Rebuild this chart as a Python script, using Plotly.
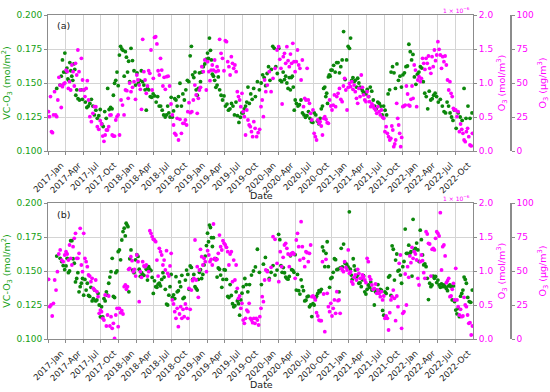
import calendar
import pandas as pd
import plotly.graph_objects as go

# ---------------- data (monthly groups of observations, 2017-01 .. 2022-12) ----------------
months = pd.date_range("2017-01-01", "2022-12-01", freq="MS")
tick_dates = pd.date_range("2017-01-01", "2022-10-01", freq="3MS")

# Panel (a) VC-O3 (mol/m^2)
vc_a_2017 = [[], [0.146], [0.1485, 0.155, 0.167, 0.158, 0.172], [0.158, 0.161, 0.153, 0.152, 0.165, 0.159],
             [0.155, 0.152, 0.164, 0.160, 0.141, 0.145], [0.1385, 0.1375, 0.145, 0.138], [0.145, 0.136, 0.132, 0.133],
             [0.135, 0.138, 0.133, 0.1265], [0.130, 0.124, 0.126, 0.1305], [0.120, 0.118, 0.129, 0.124],
             [0.146, 0.1305, 0.132, 0.131], [0.141, 0.1498, 0.152, 0.158, 0.148]]
vc_a_2018 = [[0.1705, 0.177, 0.175, 0.174, 0.155], [0.173, 0.169, 0.158, 0.166, 0.151], [0.1755, 0.1665, 0.159, 0.1485],
             [0.1575, 0.1498, 0.152, 0.159], [0.151, 0.1485, 0.145, 0.130, 0.146], [0.145, 0.140, 0.1395, 0.142],
             [0.1405, 0.136, 0.140, 0.133], [0.133, 0.130, 0.1265, 0.125], [0.1265, 0.133, 0.128, 0.125, 0.1395],
             [0.125, 0.1295, 0.1385, 0.1375, 0.133], [0.140, 0.1498, 0.133, 0.142], [0.1375, 0.145, 0.152, 0.151]]
vc_a_2019 = [[0.170, 0.177, 0.156, 0.154, 0.158], [0.145, 0.141, 0.146, 0.1575, 0.151], [0.158, 0.162, 0.164, 0.1675],
             [0.172, 0.168, 0.183, 0.174, 0.167, 0.1565], [0.155, 0.152, 0.1468, 0.1485, 0.1545],
             [0.145, 0.141, 0.1375, 0.1405], [0.133, 0.1345, 0.130, 0.131], [0.135, 0.133, 0.1265, 0.136],
             [0.126, 0.121, 0.1248, 0.128], [0.128, 0.131, 0.133, 0.136, 0.147], [0.135, 0.142, 0.138, 0.146],
             [0.140, 0.151, 0.145]]
vc_a_2020 = [[0.150, 0.156, 0.154, 0.148], [0.157, 0.162, 0.152, 0.160], [0.177, 0.1755, 0.162, 0.157],
             [0.1755, 0.152, 0.151, 0.158], [0.1525, 0.155, 0.150, 0.146, 0.154], [0.145, 0.154, 0.155, 0.147, 0.130, 0.1375],
             [0.135, 0.133, 0.134, 0.1375], [0.128, 0.1265, 0.1248, 0.126], [0.129, 0.124, 0.1215, 0.121],
             [0.128, 0.1265, 0.122, 0.120], [0.124, 0.131, 0.133, 0.146, 0.147],
             [0.140, 0.1425, 0.135, 0.1545, 0.156, 0.155, 0.1595]]
vc_a_2021 = [[0.1595, 0.163, 0.158, 0.165], [0.165, 0.1575, 0.162, 0.167], [0.1878, 0.1525, 0.167, 0.177],
             [0.1755, 0.183, 0.152, 0.154, 0.151], [0.152, 0.147, 0.1535, 0.150, 0.147],
             [0.146, 0.1443, 0.1425, 0.143, 0.142], [0.1453, 0.140, 0.147, 0.144], [0.1375, 0.133, 0.131, 0.136],
             [0.135, 0.133, 0.1265, 0.133], [0.130, 0.1265, 0.142, 0.145], [0.158, 0.162, 0.1575, 0.146],
             [0.164, 0.152, 0.155, 0.147]]
vc_a_2022 = [[0.156, 0.1575, 0.162, 0.1625], [0.1785, 0.173, 0.167, 0.171], [0.1545, 0.149, 0.1565, 0.158],
             [0.162, 0.161, 0.151, 0.1425], [0.140, 0.131, 0.144, 0.1375], [0.1385, 0.141, 0.1425, 0.140],
             [0.136, 0.138, 0.133], [0.129, 0.128, 0.136, 0.133], [0.128, 0.125, 0.1225, 0.130],
             [0.1167, 0.128, 0.125], [0.1225, 0.146, 0.124], [0.133, 0.124, 0.128]]

# Panel (a) O3 (x1e-6 mol/m^3)
o3_a_2017 = [[0.578, 0.505, 0.80, 0.284, 0.27, 0.53], [0.873, 0.53, 0.505, 0.75, 1.083], [0.97, 0.64, 0.946, 0.985, 1.0],
             [1.19, 1.167, 0.92, 1.02, 0.897], [1.265, 1.167, 0.956, 1.29, 1.118], [1.485, 1.167, 0.897, 1.363, 1.044],
             [0.897, 0.80, 0.92, 1.034, 0.75], [0.505, 0.431, 0.554, 0.652], [0.652, 0.358, 0.319, 0.446],
             [0.397, 0.22, 0.142, 0.235, 0.309], [0.309, 0.358, 0.529, 0.53, 0.235], [0.22, 0.22, 0.456, 0.505, 0.53]]
o3_a_2018 = [[0.235, 0.75, 0.676, 0.53], [0.897, 0.887, 0.775, 1.0], [0.873, 0.936, 1.02, 0.76],
             [1.118, 1.044, 0.97, 0.907, 0.613], [1.642, 1.167, 1.044, 0.848, 0.956], [1.18, 1.142, 1.485, 0.897, 1.069],
             [1.67, 1.68, 1.574, 1.18, 1.118], [1.363, 1.19, 0.956, 1.083, 0.907], [1.093, 1.1, 0.956, 0.691],
             [0.53, 0.382, 0.26, 0.235, 0.48], [0.162, 0.466, 0.26, 0.407], [0.407, 0.456, 0.382, 0.578, 0.711]]
o3_a_2019 = [[0.564, 0.578, 0.75, 0.97], [0.824, 0.554, 0.775, 0.897, 0.936], [1.24, 1.167, 1.338, 0.897],
             [1.314, 1.167, 1.034, 1.19, 1.265], [1.19, 1.338, 1.167, 1.24, 1.18], [1.642, 1.436, 1.363, 1.18],
             [1.623, 1.608, 1.314, 1.24, 1.118], [1.387, 1.29, 1.216, 1.265, 1.167], [0.873, 0.80, 0.75, 0.652, 0.848],
             [0.578, 0.505, 0.235, 0.603, 0.456], [0.382, 0.358, 0.284, 0.211, 0.431], [0.333, 0.211, 0.27, 0.319]]
o3_a_2020 = [[0.652, 0.75, 0.505, 1.044, 0.873], [0.97, 1.167, 0.873], [1.069, 1.216, 1.485],
             [1.534, 1.348, 1.216, 0.691, 1.387], [1.436, 1.29, 1.534, 1.328, 1.24], [1.426, 1.29, 1.583, 1.314, 1.167],
             [1.314, 1.485, 1.265, 1.216, 1.044], [1.338, 0.652, 0.775, 0.75, 1.216], [0.75, 0.701, 0.554, 0.456, 0.603],
             [0.26, 0.211, 0.162, 0.456, 0.407], [0.431, 0.368, 0.235, 0.48, 0.505], [0.466, 0.417, 0.407, 0.75, 0.662]]
o3_a_2021 = [[0.603, 0.676, 0.824, 0.652, 0.80], [0.848, 0.92, 0.76, 0.725], [0.956, 1.069, 0.897, 0.603, 0.936],
             [0.995, 0.946, 1.02, 0.907, 0.97], [0.873, 0.775, 0.701, 0.92, 0.80], [1.118, 0.936, 0.824, 0.75, 0.725],
             [0.873, 0.80, 0.725, 0.652, 0.691], [0.662, 0.627, 0.603, 0.554, 0.652], [0.578, 0.53, 0.603, 0.495, 0.48],
             [0.284, 0.358, 0.26, 0.211, 0.162], [0.186, 0.368, 0.309, 0.064, 0.103, 0.162],
             [0.701, 0.48, 0.382, 0.26, 0.064, 0.20]]
o3_a_2022 = [[0.652, 0.662, 0.676, 0.956, 0.838], [0.676, 0.662, 0.76, 0.956, 0.775], [1.265, 1.19, 0.652, 1.044, 1.093],
             [1.02, 1.069, 1.363, 1.29, 1.20], [1.363, 1.29, 1.397, 1.216, 1.142], [1.387, 1.24, 1.485, 1.328, 1.412],
             [1.608, 1.495, 1.412, 1.216, 1.387], [1.314, 1.397, 1.265, 1.044, 0.897], [1.02, 0.848, 0.80, 0.627, 0.603],
             [0.603, 0.505, 0.578, 0.284, 0.397], [0.319, 0.26, 0.162, 0.137, 0.284], [0.333, 0.211, 0.088, 0.074, 0.26]]

# Panel (b) VC-O3 (mol/m^2)
vc_b_2017 = [[], [0.161], [0.1593, 0.157, 0.154, 0.151], [0.1537, 0.1593, 0.1488, 0.150, 0.1723],
             [0.1723, 0.159, 0.1557, 0.142, 0.1445], [0.1488, 0.1347, 0.1385, 0.141, 0.1445],
             [0.1322, 0.1438, 0.136, 0.141, 0.132], [0.1313, 0.138, 0.128, 0.1297, 0.136],
             [0.128, 0.1287, 0.1335, 0.125, 0.1163], [0.1237, 0.1163, 0.1297, 0.128, 0.1347],
             [0.1322, 0.141, 0.1455, 0.1495, 0.1593], [0.1313, 0.1305, 0.1488, 0.150, 0.1642]]
vc_b_2018 = [[0.1655, 0.1582, 0.1728, 0.179, 0.1815], [0.1758, 0.1851, 0.1838, 0.1826, 0.1347, 0.159],
             [0.1655, 0.1507, 0.1488, 0.1582], [0.162, 0.1607, 0.1513, 0.146, 0.1488],
             [0.1475, 0.1468, 0.1532, 0.1513, 0.1433], [0.1532, 0.1513, 0.1503, 0.1453, 0.1335],
             [0.1428, 0.1385, 0.138, 0.1403, 0.141], [0.139, 0.1438, 0.1488, 0.1455, 0.1365],
             [0.1257, 0.125, 0.1322, 0.1385, 0.1475], [0.1305, 0.1325, 0.1297, 0.1458, 0.1347],
             [0.1355, 0.142, 0.1385, 0.1468, 0.1297], [0.1305, 0.1433, 0.1507, 0.1475, 0.1365]]
vc_b_2019 = [[0.1537, 0.1526, 0.1438, 0.1475, 0.1385], [0.1372, 0.136, 0.1438, 0.149, 0.151],
             [0.1445, 0.1475, 0.1545, 0.161, 0.1687], [0.1778, 0.1715, 0.1838, 0.182, 0.1745, 0.168],
             [0.1745, 0.1588, 0.159, 0.1455, 0.1522], [0.1513, 0.147, 0.138, 0.1438, 0.151],
             [0.1507, 0.1438, 0.1313, 0.1305, 0.140], [0.132, 0.126, 0.1237, 0.1245, 0.1347],
             [0.128, 0.126, 0.1175, 0.1287, 0.1337], [0.1385, 0.1445, 0.140, 0.1347],
             [0.140, 0.147, 0.150], [0.153, 0.166, 0.149]]
vc_b_2020 = [[0.140, 0.155, 0.160], [0.150, 0.1445, 0.149], [0.154, 0.147, 0.1507],
             [0.177, 0.173, 0.154, 0.149, 0.1525], [0.1487, 0.1455, 0.1445, 0.144, 0.146],
             [0.1612, 0.151, 0.1505, 0.149, 0.162], [0.136, 0.1475, 0.1355, 0.133, 0.1435],
             [0.1385, 0.1355, 0.128, 0.1285, 0.131], [0.1315, 0.1237, 0.125, 0.1165, 0.126],
             [0.125, 0.130, 0.1315, 0.1335, 0.1355], [0.1348, 0.1365, 0.1677, 0.1648, 0.1532],
             [0.163, 0.1715, 0.1532, 0.138, 0.1445]]
vc_b_2021 = [[0.1453, 0.149, 0.159, 0.1583, 0.151], [0.1513, 0.1347, 0.1522, 0.1667, 0.153],
             [0.1698, 0.1557, 0.155, 0.153], [0.1935, 0.1513, 0.147, 0.144, 0.159, 0.1537],
             [0.1507, 0.1455, 0.147, 0.141, 0.1413], [0.1385, 0.1435, 0.1465, 0.1347, 0.133],
             [0.1365, 0.1397, 0.138, 0.142, 0.136], [0.1365, 0.125, 0.1347, 0.136, 0.140],
             [0.134, 0.1365, 0.136, 0.121, 0.1175], [0.1347, 0.1335, 0.1372, 0.1455, 0.1465],
             [0.132, 0.1685, 0.166, 0.1433, 0.158], [0.1625, 0.150, 0.1507, 0.147, 0.141]]
vc_b_2022 = [[0.1532, 0.157, 0.1808, 0.163, 0.163], [0.169, 0.163, 0.1642, 0.1463, 0.188],
             [0.1655, 0.1667, 0.1705, 0.1655, 0.157], [0.180, 0.173, 0.1618, 0.1545, 0.1552],
             [0.1532, 0.1446, 0.129, 0.141, 0.1385], [0.1397, 0.1463, 0.1446, 0.146, 0.1415],
             [0.1433, 0.1397, 0.138, 0.1405, 0.1385], [0.1397, 0.1385, 0.1372, 0.1355, 0.139],
             [0.1397, 0.1385, 0.1287, 0.139, 0.1275], [0.1213, 0.1185, 0.1225, 0.1164, 0.1315],
             [0.1335, 0.136, 0.1455, 0.1438, 0.141], [0.1306, 0.1275, 0.127, 0.136]]

# Panel (b) O3 (x1e-6 mol/m^3)
o3_b_2017 = [[0.877, 0.475, 0.50, 0.338, 0.525], [0.868, 0.72, 0.99, 1.25], [1.31, 1.16, 1.137, 1.235],
             [1.284, 1.25, 1.16, 1.382, 1.186], [1.088, 1.358, 1.48, 1.554, 1.186], [1.186, 1.26, 1.627, 1.088, 0.99],
             [1.554, 1.186, 1.137, 1.064, 0.941], [0.926, 0.843, 0.892, 0.745, 0.72], [0.868, 0.696, 0.623, 0.377, 0.426],
             [0.402, 0.304, 0.279, 0.647, 0.191], [0.353, 0.632, 0.191, 0.328, 0.157], [0.23, 0.01, 0.353, 0.451, 0.181]]
o3_b_2018 = [[0.451, 0.387, 0.417, 0.368, 0.77], [0.794, 0.73, 0.77, 1.025, 1.04], [1.21, 1.152, 0.99, 1.025, 0.926],
             [1.235, 1.137, 0.549, 0.99, 0.907], [1.137, 1.074, 1.064, 1.088, 0.926], [0.99, 1.593, 1.554, 1.505, 1.466],
             [1.456, 1.431, 1.16, 0.926, 1.333], [1.284, 1.235, 1.088, 1.16, 1.015], [1.299, 0.966, 0.926, 1.074, 1.26],
             [0.574, 0.515, 0.402, 0.304, 0.451], [0.181, 0.368, 0.475, 0.304, 0.436], [0.328, 0.515, 0.451, 0.304, 0.745]]
o3_b_2019 = [[0.436, 0.72, 0.858, 0.892, 1.456], [0.868, 1.064, 0.613, 1.015, 1.319], [1.21, 1.088, 1.186, 1.137, 0.99],
             [1.299, 1.235, 1.137, 1.172, 1.088], [1.691, 1.186, 1.16, 1.172, 1.26], [1.529, 1.358, 1.309, 1.446, 1.407],
             [1.382, 1.348, 1.284, 1.088, 1.25], [1.284, 0.843, 1.16, 0.868, 1.088], [0.745, 0.598, 0.632, 0.451, 0.525],
             [0.279, 0.23, 0.304, 0.426, 0.402], [0.525, 0.304, 0.279, 0.24, 0.304], [0.23, 0.304, 0.279, 0.206, 0.328]]
o3_b_2020 = [[0.451, 0.623, 0.549, 0.868, 1.015], [0.99, 0.868, 1.054], [1.505, 1.466, 1.113],
             [0.843, 1.284, 1.064, 1.201], [1.382, 1.407, 1.333, 1.25, 1.064], [1.235, 1.26, 1.27, 1.25, 0.892],
             [1.456, 1.554, 1.358, 1.16, 1.725], [1.358, 1.186, 1.064, 1.284, 1.27], [1.137, 1.26, 1.382, 0.623, 0.632],
             [0.613, 0.574, 0.387, 0.338, 0.279], [0.27, 0.27, 1.137, 0.662, 0.108], [1.172, 0.672, 0.475, 0.402, 0.525]]
o3_b_2021 = [[0.338, 0.451, 0.574, 0.377, 0.696], [0.564, 0.574, 0.377, 1.04, 1.015], [0.99, 1.137, 1.054, 1.015, 1.31],
             [0.966, 0.99, 0.843, 0.809, 0.907], [0.941, 0.868, 1.025, 0.966, 0.892], [0.892, 0.941, 0.917, 0.868, 0.828],
             [1.186, 1.137, 0.917, 0.877, 0.794], [0.73, 0.745, 0.809, 0.672, 0.72], [0.672, 0.623, 0.696, 0.574, 0.632],
             [0.304, 0.338, 0.304, 0.132, 0.387], [0.574, 0.623, 0.72, 0.598, 0.27], [0.632, 0.475, 1.113, 1.235, 0.157]]
o3_b_2022 = [[0.377, 0.402, 0.956, 0.50, 1.064], [0.907, 1.221, 1.123, 1.348, 1.186], [1.284, 1.25, 1.162, 0.892, 0.794],
             [1.137, 1.235, 1.152, 0.975, 0.892], [1.578, 1.544, 1.407, 1.397, 0.926], [1.319, 1.333, 1.31, 1.48, 1.578],
             [1.554, 1.515, 1.858, 1.015, 1.358], [1.382, 1.221, 0.828, 0.858, 0.892], [0.623, 0.632, 0.73, 0.819, 0.574],
             [1.04, 0.574, 0.475, 0.353, 0.436], [0.328, 0.338, 0.613, 0.50, 0.475], [0.353, 0.23, 0.24, 0.059, 0.191]]

x_start = "2017-01-01"
x_end = "2023-01-01"

GREEN = "#0b870b"
GREEN_TXT = "#14a014"
MAG = "#ff00ff"
SPINE = "#8c8c8c"
GRID = "#d4d4d4"
TXT = "#222222"
FONT = "DejaVu Sans"


def spread(*years):
    monthly = [m for y in years for m in y]
    xs, ys = [], []
    for ms, vals in zip(months, monthly):
        nd = calendar.monthrange(ms.year, ms.month)[1]
        k = len(vals)
        for i, v in enumerate(vals):
            xs.append(ms + pd.Timedelta(days=(i + 0.5) * nd / k))
            ys.append(v)
    return xs, ys


xa_g, ya_g = spread(vc_a_2017, vc_a_2018, vc_a_2019, vc_a_2020, vc_a_2021, vc_a_2022)
xa_m, ya_m = spread(o3_a_2017, o3_a_2018, o3_a_2019, o3_a_2020, o3_a_2021, o3_a_2022)
xb_g, yb_g = spread(vc_b_2017, vc_b_2018, vc_b_2019, vc_b_2020, vc_b_2021, vc_b_2022)
xb_m, yb_m = spread(o3_b_2017, o3_b_2018, o3_b_2019, o3_b_2020, o3_b_2021, o3_b_2022)

fig = go.Figure()
mk_g = dict(color=GREEN, size=3.8)
mk_m = dict(color=MAG, size=3.8)
fig.add_trace(go.Scatter(x=xa_g, y=ya_g, mode="markers", marker=mk_g, xaxis="x", yaxis="y", showlegend=False))
fig.add_trace(go.Scatter(x=xa_m, y=ya_m, mode="markers", marker=mk_m, xaxis="x", yaxis="y2", showlegend=False))
fig.add_trace(go.Scatter(x=xb_g, y=yb_g, mode="markers", marker=mk_g, xaxis="x2", yaxis="y4", showlegend=False))
fig.add_trace(go.Scatter(x=xb_m, y=yb_m, mode="markers", marker=mk_m, xaxis="x2", yaxis="y5", showlegend=False))
# empty traces so that the extra (µg/m³) axes get drawn
fig.add_trace(go.Scatter(x=[None], y=[None], mode="markers", xaxis="x", yaxis="y3", showlegend=False, hoverinfo="skip"))
fig.add_trace(go.Scatter(x=[None], y=[None], mode="markers", xaxis="x2", yaxis="y6", showlegend=False, hoverinfo="skip"))

W, H = 550, 392
ML, MR, MT, MB = 48, 5, 15, 53
pw = W - ML - MR
ph = H - MT - MB
xdom_end = (473 - ML) / pw
ypos3 = (511 - ML) / pw
a_dom = [(339 - 151) / ph, 1.0]
b_dom = [0.0, (339 - 203) / ph]


def py(ypix):
    return (H - MB - ypix) / ph


def px(xpix):
    return (xpix - ML) / pw


def xaxis_cfg(anchor):
    return dict(domain=[0, xdom_end], anchor=anchor, range=[x_start, x_end],
                tickmode="array", tickvals=list(tick_dates), ticktext=[d.strftime("%Y-%b") for d in tick_dates],
                tickangle=-45, ticklabelshift=13, ticklabelstandoff=2,
                showgrid=True, gridcolor=GRID, gridwidth=1, showline=True, linecolor=SPINE, linewidth=1,
                mirror=True, ticks="outside", ticklen=3, tickcolor=SPINE,
                tickfont=dict(family=FONT, size=8.5, color=TXT),
                zeroline=False, automargin=False)


def yleft_cfg(dom, anchor):
    return dict(domain=dom, anchor=anchor, range=[0.1, 0.2], dtick=0.025, tickformat=".3f",
                showgrid=True, gridcolor=GRID, showline=True, linecolor=SPINE, mirror=True,
                ticks="outside", ticklen=3, tickcolor=SPINE,
                tickfont=dict(family=FONT, size=9, color=GREEN_TXT),
                title=dict(text="VC-O<sub>3</sub> (mol/m<sup>2</sup>)", font=dict(family=FONT, size=9.5, color=GREEN_TXT),
                           standoff=5),
                zeroline=False, automargin=False)


def yright_cfg(over, anchor):
    return dict(overlaying=over, anchor=anchor, side="right", range=[0, 2], dtick=0.5, tickformat=".1f",
                showgrid=False, showline=False, ticks="outside", ticklen=3, tickcolor=SPINE,
                tickfont=dict(family=FONT, size=9, color=MAG),
                title=dict(text="O<sub>3</sub> (mol/m<sup>3</sup>)", font=dict(family=FONT, size=9.5, color=MAG),
                           standoff=5),
                zeroline=False, automargin=False)


def yfree_cfg(over):
    return dict(overlaying=over, anchor="free", position=ypos3, side="right", range=[0, 100], dtick=25,
                showgrid=False, showline=True, linecolor=SPINE, linewidth=1.5, ticks="outside", ticklen=3,
                tickcolor=SPINE, tickfont=dict(family=FONT, size=9, color=MAG),
                title=dict(text="O<sub>3</sub> (µg/m<sup>3</sup>)", font=dict(family=FONT, size=9.5, color=MAG),
                           standoff=5),
                zeroline=False, automargin=False)


def note(text, xp, yp, size=10, color=TXT, xanchor="center"):
    return dict(text=text, x=px(xp), y=py(yp), xref="paper", yref="paper", showarrow=False,
                xanchor=xanchor, yanchor="middle", font=dict(family=FONT, size=size, color=color))


fig.update_layout(
    width=W, height=H, margin=dict(l=ML, r=MR, t=MT, b=MB),
    paper_bgcolor="white", plot_bgcolor="white",
    font=dict(family=FONT, size=10),
    xaxis=xaxis_cfg("y"), yaxis=yleft_cfg(a_dom, "x"),
    yaxis2=yright_cfg("y", "x"), yaxis3=yfree_cfg("y"),
    xaxis2=xaxis_cfg("y4"), yaxis4=yleft_cfg(b_dom, "x2"),
    yaxis5=yright_cfg("y4", "x2"), yaxis6=yfree_cfg("y4"),
    annotations=[
        note("(a)", 55, 25, size=9.5, xanchor="left"),
        note("(b)", 55, 214, size=9.5, xanchor="left"),
        note("Date", 261, 195, size=9.5),
        note("Date", 261, 384, size=9.5),
        note("1 × 10<sup>−6</sup>", 472, 10, size=6, color=MAG, xanchor="right"),
        note("1 × 10<sup>−6</sup>", 472, 198, size=6, color=MAG, xanchor="right"),
    ],
)

fig.write_html("out.html", config={"displayModeBar": False},
               post_script="document.body.style.margin='0';")
